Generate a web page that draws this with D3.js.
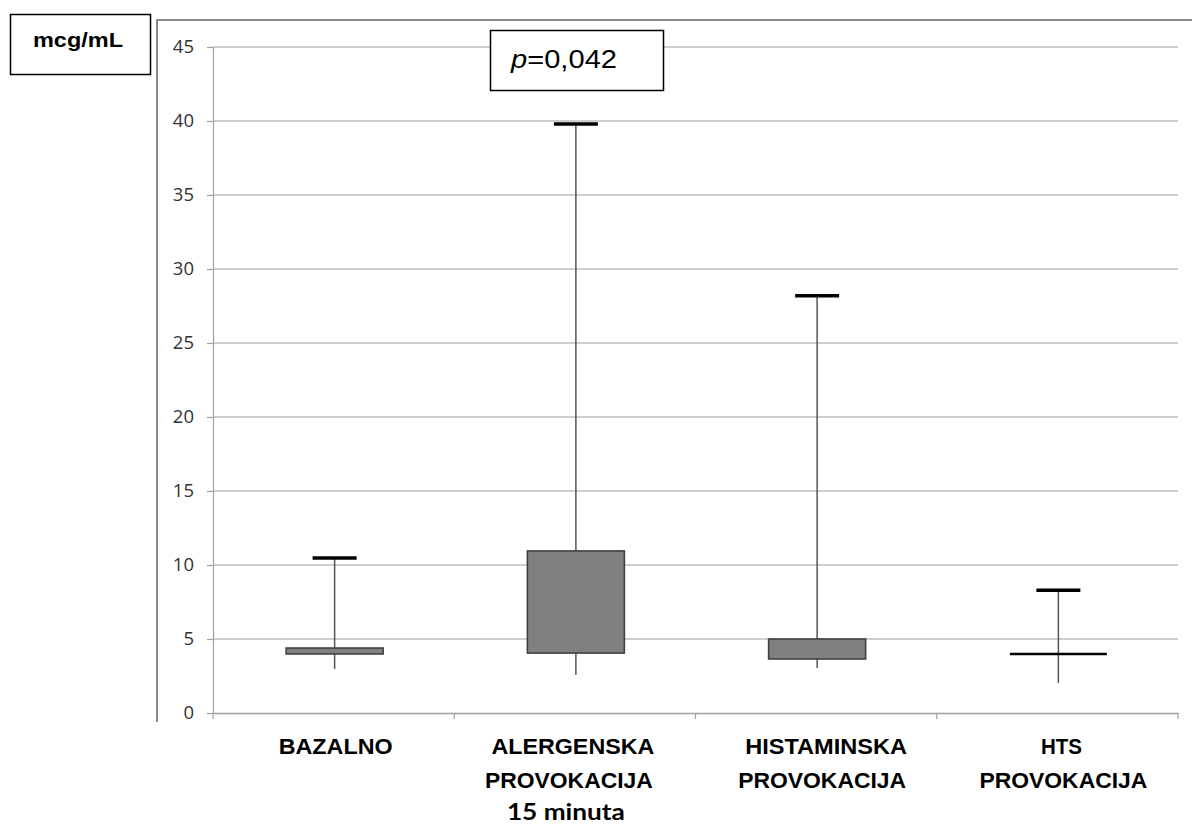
<!DOCTYPE html>
<html>
<head>
<meta charset="utf-8">
<script src="https://cdn.jsdelivr.net/npm/d3@7"></script>
<style>
  html, body { margin: 0; padding: 0; background: #fff; }
  svg { display: block; }
</style>
</head>
<body>
<svg id="chart" width="1192" height="825"></svg>
<script>
// ---- Data ----
const categories = ["BAZALNO", "ALERGENSKA PROVOKACIJA 15 minuta", "HISTAMINSKA PROVOKACIJA", "HTS PROVOKACIJA"];
const categoryLines = [["BAZALNO"], ["ALERGENSKA", "PROVOKACIJA", "15 minuta"], ["HISTAMINSKA", "PROVOKACIJA"], ["HTS", "PROVOKACIJA"]];
const whiskerLow  = [2.97, 2.57, 3.04, 2.03];
const q1Values    = [3.99, 4.05, 3.65, 3.99];
const q3Values    = [4.39, 10.95, 5.00, 3.99];
const whiskerHigh = [10.47, 39.8, 28.2, 8.3];
const yTicks = [0, 5, 10, 15, 20, 25, 30, 35, 40, 45];
const unitLabel = "mcg/mL";
const pLabel = ["p", "=0,042"];

// ---- Layout ----
const svg = d3.select("#chart");
const plot = { left: 213, right: 1178, top: 47, bottom: 713 };

const x = d3.scaleBand().domain(categories).range([plot.left, plot.right]).padding(0);
const y = d3.scaleLinear().domain([0, 45]).range([plot.bottom, plot.top]);

// outer chart frame (clipped by the picture)
svg.append("line").attr("x1", 157).attr("x2", 157).attr("y1", 19).attr("y2", 722)
  .attr("stroke", "#8a8a8a").attr("stroke-width", 2);
svg.append("line").attr("x1", 156).attr("x2", 1192).attr("y1", 20).attr("y2", 20)
  .attr("stroke", "#8a8a8a").attr("stroke-width", 2);

// gridlines + y axis
const yAxis = d3.axisLeft(y).tickValues(yTicks).tickSize(6).tickPadding(13).tickFormat(d3.format("d"));
const gy = svg.append("g").attr("transform", `translate(${plot.left},0)`).call(yAxis);
gy.select(".domain").attr("stroke", "#a0a0a0").attr("stroke-width", 1.2);
gy.selectAll(".tick line").attr("stroke", "#a0a0a0").attr("stroke-width", 1.2);
gy.selectAll(".tick text").attr("font-family", "'Open Sans', 'DejaVu Sans', sans-serif")
  .attr("font-size", 18.5).attr("fill", "#333");

svg.append("g").selectAll("line").data(yTicks.filter(d => d > 0)).join("line")
  .attr("x1", plot.left).attr("x2", plot.right)
  .attr("y1", d => y(d)).attr("y2", d => y(d))
  .attr("stroke", "#a0a0a0").attr("stroke-width", 1.2);

// x axis
const xAxis = d3.axisBottom(x).tickSize(0).tickFormat("");
const gx = svg.append("g").attr("transform", `translate(0,${plot.bottom})`).call(xAxis);
gx.select(".domain").attr("stroke", "#a0a0a0").attr("stroke-width", 1.5);
const bounds = categories.map(c => x(c)).concat([plot.right]);
svg.append("g").selectAll("line").data(bounds).join("line")
  .attr("x1", d => d).attr("x2", d => d)
  .attr("y1", plot.bottom).attr("y2", plot.bottom + 6)
  .attr("stroke", "#a0a0a0").attr("stroke-width", 1.2);

// category labels
const lineWidths = { "BAZALNO": 114, "ALERGENSKA": 163, "PROVOKACIJA": 168, "15 minuta": 118, "HISTAMINSKA": 162, "HTS": 41 };
const lineBase = [754, 788, 820];
categories.forEach((c, i) => {
  const cx = x(c) + x.bandwidth() / 2;
  const offsets = [2, -2, 10, 4];
  categoryLines[i].forEach((t, j) => {
    const isCal = t === "15 minuta";
    svg.append("text")
      .attr("x", cx + (j === 0 ? offsets[i] : (isCal ? -9 : (i === 3 ? 6 : offsets[i] - 4))))
      .attr("y", lineBase[j])
      .attr("text-anchor", "middle")
      .attr("font-family", isCal ? "Lato, 'Open Sans', sans-serif" : "'Liberation Sans', Arial, sans-serif")
      .attr("font-weight", "bold")
      .attr("font-size", isCal ? 23 : 22)
      .attr("textLength", lineWidths[t])
      .attr("lengthAdjust", "spacingAndGlyphs")
      .attr("fill", "#000")
      .text(t);
  });
});

// box plots
const boxW = 97, capW = 44;
const g = svg.append("g");
categories.forEach((c, i) => {
  const cx = x(c) + x.bandwidth() / 2 + 1;
  g.append("line").attr("x1", cx).attr("x2", cx)
    .attr("y1", y(whiskerHigh[i])).attr("y2", y(whiskerLow[i]))
    .attr("stroke", "#555").attr("stroke-width", 1.5);
  g.append("line").attr("x1", cx - capW / 2).attr("x2", cx + capW / 2)
    .attr("y1", y(whiskerHigh[i])).attr("y2", y(whiskerHigh[i]))
    .attr("stroke", "#000").attr("stroke-width", 3.5);
  if (q3Values[i] - q1Values[i] > 0.05) {
    g.append("rect")
      .attr("x", cx - boxW / 2).attr("width", boxW)
      .attr("y", y(q3Values[i])).attr("height", y(q1Values[i]) - y(q3Values[i]))
      .attr("fill", "#808080").attr("stroke", "#404040").attr("stroke-width", 1.6);
  } else {
    g.append("line").attr("x1", cx - boxW / 2).attr("x2", cx + boxW / 2)
      .attr("y1", y(q1Values[i])).attr("y2", y(q1Values[i]))
      .attr("stroke", "#000").attr("stroke-width", 2.5);
  }
});

// unit label box
svg.append("rect").attr("x", 10.5).attr("y", 14.5).attr("width", 140).attr("height", 60)
  .attr("fill", "#fff").attr("stroke", "#000").attr("stroke-width", 1.5);
svg.append("text").attr("x", 78).attr("y", 47).attr("text-anchor", "middle")
  .attr("font-family", "'Liberation Sans', Arial, sans-serif").attr("font-weight", "bold")
  .attr("font-size", 20).attr("textLength", 90).attr("lengthAdjust", "spacingAndGlyphs")
  .text(unitLabel);

// p-value box
svg.append("rect").attr("x", 490.5).attr("y", 30.5).attr("width", 173).attr("height", 60)
  .attr("fill", "#fff").attr("stroke", "#000").attr("stroke-width", 1.5);
const pt = svg.append("text").attr("x", 511).attr("y", 68)
  .attr("font-family", "'Liberation Sans', Arial, sans-serif").attr("font-size", 26)
  .attr("textLength", 106).attr("lengthAdjust", "spacingAndGlyphs");
pt.append("tspan").attr("font-style", "italic").text(pLabel[0]);
pt.append("tspan").text(pLabel[1]);
</script>
</body>
</html>
